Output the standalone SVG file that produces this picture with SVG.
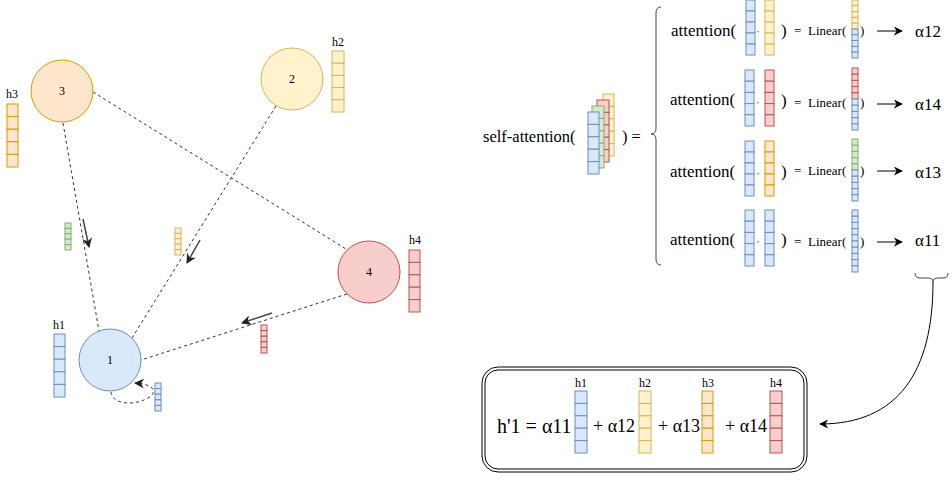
<svg xmlns="http://www.w3.org/2000/svg" width="951" height="480" viewBox="0 0 951 480">
<defs>
<style>
text{font-family:"Liberation Serif","Times New Roman",serif;fill:#000}
.b{fill:#dae8fc;stroke:#6c8ebf}
.y{fill:#fff2cc;stroke:#d6b656}
.o{fill:#ffe6cc;stroke:#d79b00}
.r{fill:#f8cecc;stroke:#b85450}
.g{fill:#d5e8d4;stroke:#82b366}
.dash{fill:none;stroke:#333;stroke-width:1;stroke-dasharray:3 3}
.dir{fill:none;stroke:#444;stroke-width:1.5}
.lbl{font-size:12px;text-anchor:middle}
.att{font-size:17px}
.lin{font-size:13px}
</style>
<marker id="ah" viewBox="0 0 10 10" refX="9" refY="5" markerWidth="9" markerHeight="9" markerUnits="userSpaceOnUse" orient="auto">
<path d="M0,0 L10,5 L0,10 L3,5 z" fill="#000"/>
</marker>
<marker id="ahg" viewBox="0 0 10 10" refX="9" refY="5" markerWidth="10" markerHeight="10" markerUnits="userSpaceOnUse" orient="auto">
<path d="M0,0 L10,5 L0,10 L3,5 z" fill="#222"/>
</marker>
</defs>
<rect width="951" height="480" fill="#fff"/>

<g id="connectors">
<line class="dash" x1="63" y1="123" x2="99" y2="331"/>
<line class="dash" x1="93" y1="92" x2="346" y2="249"/>
<line class="dash" x1="276" y1="106" x2="132" y2="338"/>
<line class="dash" x1="347" y1="294" x2="141" y2="360"/>
<path class="dash" d="M111,392 C113,406 138,406 151,396 C157,390 152,384 135,383" marker-end="url(#ahg)"/>
<line class="dir" x1="83" y1="219" x2="89" y2="247" marker-end="url(#ahg)"/>
<line class="dir" x1="200" y1="240" x2="187" y2="263" marker-end="url(#ahg)"/>
<line class="dir" x1="272" y1="313" x2="242" y2="323" marker-end="url(#ahg)"/>
<line x1="877" y1="31" x2="902" y2="31" stroke="#000" marker-end="url(#ah)"/>
<line x1="877" y1="104" x2="902" y2="104" stroke="#000" marker-end="url(#ah)"/>
<line x1="877" y1="171" x2="902" y2="171" stroke="#000" marker-end="url(#ah)"/>
<line x1="877" y1="242" x2="902" y2="242" stroke="#000" marker-end="url(#ah)"/>
<path d="M933,282 C933,372 898,424 820,424" fill="none" stroke="#000" marker-end="url(#ah)"/>
</g>

<g id="node3">
<circle cx="62" cy="91" r="31" class="o"/>
<text x="62" y="95" class="lbl">3</text>
</g>
<g id="node2">
<circle cx="292" cy="79" r="31" class="y"/>
<text x="292" y="83" class="lbl">2</text>
</g>
<g id="node4">
<circle cx="369" cy="272" r="31" class="r"/>
<text x="369" y="276" class="lbl">4</text>
</g>
<g id="node1">
<circle cx="110" cy="360" r="31" class="b"/>
<text x="110" y="364" class="lbl">1</text>
</g>

<g id="h3">
<text x="12" y="98" class="lbl">h3</text>
<rect class="o" x="7" y="104" width="11" height="12.6"/><rect class="o" x="7" y="116.6" width="11" height="12.6"/><rect class="o" x="7" y="129.2" width="11" height="12.6"/><rect class="o" x="7" y="141.8" width="11" height="12.6"/><rect class="o" x="7" y="154.4" width="11" height="12.6"/>
</g>
<g id="h2">
<text x="338" y="46" class="lbl">h2</text>
<rect class="y" x="332" y="51" width="12" height="12.2"/><rect class="y" x="332" y="63.2" width="12" height="12.2"/><rect class="y" x="332" y="75.4" width="12" height="12.2"/><rect class="y" x="332" y="87.6" width="12" height="12.2"/><rect class="y" x="332" y="99.8" width="12" height="12.2"/>
</g>
<g id="h4">
<text x="415" y="244" class="lbl">h4</text>
<rect class="r" x="409" y="250" width="11" height="12.4"/><rect class="r" x="409" y="262.4" width="11" height="12.4"/><rect class="r" x="409" y="274.8" width="11" height="12.4"/><rect class="r" x="409" y="287.2" width="11" height="12.4"/><rect class="r" x="409" y="299.6" width="11" height="12.4"/>
</g>
<g id="h1">
<text x="59" y="329" class="lbl">h1</text>
<rect class="b" x="54" y="334" width="11" height="12.6"/><rect class="b" x="54" y="346.6" width="11" height="12.6"/><rect class="b" x="54" y="359.2" width="11" height="12.6"/><rect class="b" x="54" y="371.8" width="11" height="12.6"/><rect class="b" x="54" y="384.4" width="11" height="12.6"/>
</g>
<g id="msg3">
<rect class="g" x="65" y="223" width="6" height="5.4"/><rect class="g" x="65" y="228.4" width="6" height="5.4"/><rect class="g" x="65" y="233.8" width="6" height="5.4"/><rect class="g" x="65" y="239.2" width="6" height="5.4"/><rect class="g" x="65" y="244.6" width="6" height="5.4"/>
</g>
<g id="msg2">
<rect class="y" x="175" y="228" width="6" height="5.4"/><rect class="y" x="175" y="233.4" width="6" height="5.4"/><rect class="y" x="175" y="238.8" width="6" height="5.4"/><rect class="y" x="175" y="244.2" width="6" height="5.4"/><rect class="y" x="175" y="249.6" width="6" height="5.4"/>
</g>
<g id="msg4">
<rect class="r" x="261" y="325" width="6" height="5.6"/><rect class="r" x="261" y="330.6" width="6" height="5.6"/><rect class="r" x="261" y="336.2" width="6" height="5.6"/><rect class="r" x="261" y="341.8" width="6" height="5.6"/><rect class="r" x="261" y="347.4" width="6" height="5.6"/>
</g>
<g id="msg1">
<rect class="b" x="155" y="383" width="6" height="5.6"/><rect class="b" x="155" y="388.6" width="6" height="5.6"/><rect class="b" x="155" y="394.2" width="6" height="5.6"/><rect class="b" x="155" y="399.8" width="6" height="5.6"/><rect class="b" x="155" y="405.4" width="6" height="5.6"/>
</g>

<g id="selfattention">
<text x="483" y="142" style="font-size:16.5px">self-attention(</text>
<rect class="y" x="603" y="94" width="11" height="12.4"/><rect class="y" x="603" y="106.4" width="11" height="12.4"/><rect class="y" x="603" y="118.8" width="11" height="12.4"/><rect class="y" x="603" y="131.2" width="11" height="12.4"/><rect class="y" x="603" y="143.6" width="11" height="12.4"/>
<rect class="r" x="597" y="100" width="12" height="12.4"/><rect class="r" x="597" y="112.4" width="12" height="12.4"/><rect class="r" x="597" y="124.8" width="12" height="12.4"/><rect class="r" x="597" y="137.2" width="12" height="12.4"/><rect class="r" x="597" y="149.6" width="12" height="12.4"/>
<rect class="g" x="592" y="106" width="12" height="12.4"/><rect class="g" x="592" y="118.4" width="12" height="12.4"/><rect class="g" x="592" y="130.8" width="12" height="12.4"/><rect class="g" x="592" y="143.2" width="12" height="12.4"/><rect class="g" x="592" y="155.6" width="12" height="12.4"/>
<rect class="b" x="588" y="112" width="11" height="12.4"/><rect class="b" x="588" y="124.4" width="11" height="12.4"/><rect class="b" x="588" y="136.8" width="11" height="12.4"/><rect class="b" x="588" y="149.2" width="11" height="12.4"/><rect class="b" x="588" y="161.6" width="11" height="12.4"/>
<text x="622" y="142" style="font-size:16.5px">) =</text>
<path d="M661,7 Q656,7 656,13 L656,128 Q656,134 651,134 Q656,134 656,140 L656,259 Q656,265 661,265" fill="none" stroke="#444"/>
</g>

<g id="row1">
<text x="671" y="36" class="att">attention(</text>
<rect class="b" x="746" y="0" width="9" height="11"/><rect class="b" x="746" y="11" width="9" height="11"/><rect class="b" x="746" y="22" width="9" height="11"/><rect class="b" x="746" y="33" width="9" height="11"/><rect class="b" x="746" y="44" width="9" height="11"/>
<text x="757" y="32" style="font-size:8px">,</text>
<rect class="y" x="765" y="0" width="9" height="11"/><rect class="y" x="765" y="11" width="9" height="11"/><rect class="y" x="765" y="22" width="9" height="11"/><rect class="y" x="765" y="33" width="9" height="11"/><rect class="y" x="765" y="44" width="9" height="11"/>
<text x="781" y="36" class="att">)</text>
<text x="794" y="35" class="lin">=</text>
<text x="808" y="35" class="lin">Linear(</text>
<rect class="y" x="852" y="0" width="6" height="5.8"/><rect class="y" x="852" y="5.8" width="6" height="5.8"/><rect class="y" x="852" y="11.6" width="6" height="5.8"/><rect class="y" x="852" y="17.4" width="6" height="5.8"/><rect class="y" x="852" y="23.2" width="6" height="5.8"/>
<rect class="b" x="852" y="29" width="6" height="5.8"/><rect class="b" x="852" y="34.8" width="6" height="5.8"/><rect class="b" x="852" y="40.6" width="6" height="5.8"/><rect class="b" x="852" y="46.4" width="6" height="5.8"/><rect class="b" x="852" y="52.2" width="6" height="5.8"/>
<text x="860" y="35" class="lin">)</text>
<text x="915" y="37" class="att">α12</text>
</g>

<g id="row2">
<text x="670" y="105" class="att">attention(</text>
<rect class="b" x="745" y="70" width="9" height="11.2"/><rect class="b" x="745" y="81.2" width="9" height="11.2"/><rect class="b" x="745" y="92.4" width="9" height="11.2"/><rect class="b" x="745" y="103.6" width="9" height="11.2"/><rect class="b" x="745" y="114.8" width="9" height="11.2"/>
<text x="757" y="103" style="font-size:8px">,</text>
<rect class="r" x="765" y="70" width="9" height="11.2"/><rect class="r" x="765" y="81.2" width="9" height="11.2"/><rect class="r" x="765" y="92.4" width="9" height="11.2"/><rect class="r" x="765" y="103.6" width="9" height="11.2"/><rect class="r" x="765" y="114.8" width="9" height="11.2"/>
<text x="781" y="106" class="att">)</text>
<text x="794" y="107" class="lin">=</text>
<text x="808" y="107" class="lin">Linear(</text>
<rect class="r" x="852" y="68" width="6" height="6.2"/><rect class="r" x="852" y="74.2" width="6" height="6.2"/><rect class="r" x="852" y="80.4" width="6" height="6.2"/><rect class="r" x="852" y="86.6" width="6" height="6.2"/><rect class="r" x="852" y="92.8" width="6" height="6.2"/>
<rect class="b" x="852" y="99" width="6" height="6.2"/><rect class="b" x="852" y="105.2" width="6" height="6.2"/><rect class="b" x="852" y="111.4" width="6" height="6.2"/><rect class="b" x="852" y="117.6" width="6" height="6.2"/><rect class="b" x="852" y="123.8" width="6" height="6.2"/>
<text x="860" y="107" class="lin">)</text>
<text x="915" y="110" class="att">α14</text>
</g>

<g id="row3">
<text x="670" y="177" class="att">attention(</text>
<rect class="b" x="745" y="141" width="9" height="11"/><rect class="b" x="745" y="152" width="9" height="11"/><rect class="b" x="745" y="163" width="9" height="11"/><rect class="b" x="745" y="174" width="9" height="11"/><rect class="b" x="745" y="185" width="9" height="11"/>
<text x="757" y="174" style="font-size:8px">,</text>
<rect class="o" x="765" y="141" width="9" height="11"/><rect class="o" x="765" y="152" width="9" height="11"/><rect class="o" x="765" y="163" width="9" height="11"/><rect class="o" x="765" y="174" width="9" height="11"/><rect class="o" x="765" y="185" width="9" height="11"/>
<text x="781" y="177" class="att">)</text>
<text x="794" y="175" class="lin">=</text>
<text x="808" y="175" class="lin">Linear(</text>
<rect class="g" x="852" y="139" width="6" height="6.2"/><rect class="g" x="852" y="145.2" width="6" height="6.2"/><rect class="g" x="852" y="151.4" width="6" height="6.2"/><rect class="g" x="852" y="157.6" width="6" height="6.2"/><rect class="g" x="852" y="163.8" width="6" height="6.2"/>
<rect class="b" x="852" y="170" width="6" height="6.2"/><rect class="b" x="852" y="176.2" width="6" height="6.2"/><rect class="b" x="852" y="182.4" width="6" height="6.2"/><rect class="b" x="852" y="188.6" width="6" height="6.2"/><rect class="b" x="852" y="194.8" width="6" height="6.2"/>
<text x="860" y="175" class="lin">)</text>
<text x="915" y="178" class="att">α13</text>
</g>

<g id="row4">
<text x="670" y="245" class="att">attention(</text>
<rect class="b" x="745" y="210" width="9" height="11.2"/><rect class="b" x="745" y="221.2" width="9" height="11.2"/><rect class="b" x="745" y="232.4" width="9" height="11.2"/><rect class="b" x="745" y="243.6" width="9" height="11.2"/><rect class="b" x="745" y="254.8" width="9" height="11.2"/>
<text x="757" y="242" style="font-size:8px">,</text>
<rect class="b" x="765" y="210" width="9" height="11.2"/><rect class="b" x="765" y="221.2" width="9" height="11.2"/><rect class="b" x="765" y="232.4" width="9" height="11.2"/><rect class="b" x="765" y="243.6" width="9" height="11.2"/><rect class="b" x="765" y="254.8" width="9" height="11.2"/>
<text x="781" y="245" class="att">)</text>
<text x="794" y="246" class="lin">=</text>
<text x="808" y="246" class="lin">Linear(</text>
<rect class="b" x="852" y="210" width="6" height="6.2"/><rect class="b" x="852" y="216.2" width="6" height="6.2"/><rect class="b" x="852" y="222.4" width="6" height="6.2"/><rect class="b" x="852" y="228.6" width="6" height="6.2"/><rect class="b" x="852" y="234.8" width="6" height="6.2"/>
<rect class="b" x="852" y="241" width="6" height="6.2"/><rect class="b" x="852" y="247.2" width="6" height="6.2"/><rect class="b" x="852" y="253.4" width="6" height="6.2"/><rect class="b" x="852" y="259.6" width="6" height="6.2"/><rect class="b" x="852" y="265.8" width="6" height="6.2"/>
<text x="860" y="246" class="lin">)</text>
<text x="915" y="246" class="att">α11</text>
<path d="M915,273 Q915,278 920,278 L928,278 Q933,278 933,282 Q933,278 938,278 L943,278 Q948,278 948,273" fill="none" stroke="#444"/>
</g>

<g id="result">
<rect x="482" y="367" width="325" height="105" rx="16" fill="none" stroke="#000"/>
<rect x="485" y="370" width="319" height="99" rx="13" fill="none" stroke="#000"/>
<text x="497" y="433" style="font-size:20px">h'1 = α11</text>
<text x="581" y="387" class="lbl">h1</text>
<rect class="b" x="575" y="391" width="12" height="12.4"/><rect class="b" x="575" y="403.4" width="12" height="12.4"/><rect class="b" x="575" y="415.8" width="12" height="12.4"/><rect class="b" x="575" y="428.2" width="12" height="12.4"/><rect class="b" x="575" y="440.6" width="12" height="12.4"/>
<text x="593" y="432" style="font-size:18px">+ α12</text>
<text x="645" y="387" class="lbl">h2</text>
<rect class="y" x="639" y="391" width="12" height="12.4"/><rect class="y" x="639" y="403.4" width="12" height="12.4"/><rect class="y" x="639" y="415.8" width="12" height="12.4"/><rect class="y" x="639" y="428.2" width="12" height="12.4"/><rect class="y" x="639" y="440.6" width="12" height="12.4"/>
<text x="658" y="432" style="font-size:18px">+ α13</text>
<text x="708" y="387" class="lbl">h3</text>
<rect class="o" x="702" y="391" width="11" height="12.4"/><rect class="o" x="702" y="403.4" width="11" height="12.4"/><rect class="o" x="702" y="415.8" width="11" height="12.4"/><rect class="o" x="702" y="428.2" width="11" height="12.4"/><rect class="o" x="702" y="440.6" width="11" height="12.4"/>
<text x="725" y="432" style="font-size:18px">+ α14</text>
<text x="776" y="387" class="lbl">h4</text>
<rect class="r" x="770" y="391" width="12" height="12.4"/><rect class="r" x="770" y="403.4" width="12" height="12.4"/><rect class="r" x="770" y="415.8" width="12" height="12.4"/><rect class="r" x="770" y="428.2" width="12" height="12.4"/><rect class="r" x="770" y="440.6" width="12" height="12.4"/>
</g>
</svg>
